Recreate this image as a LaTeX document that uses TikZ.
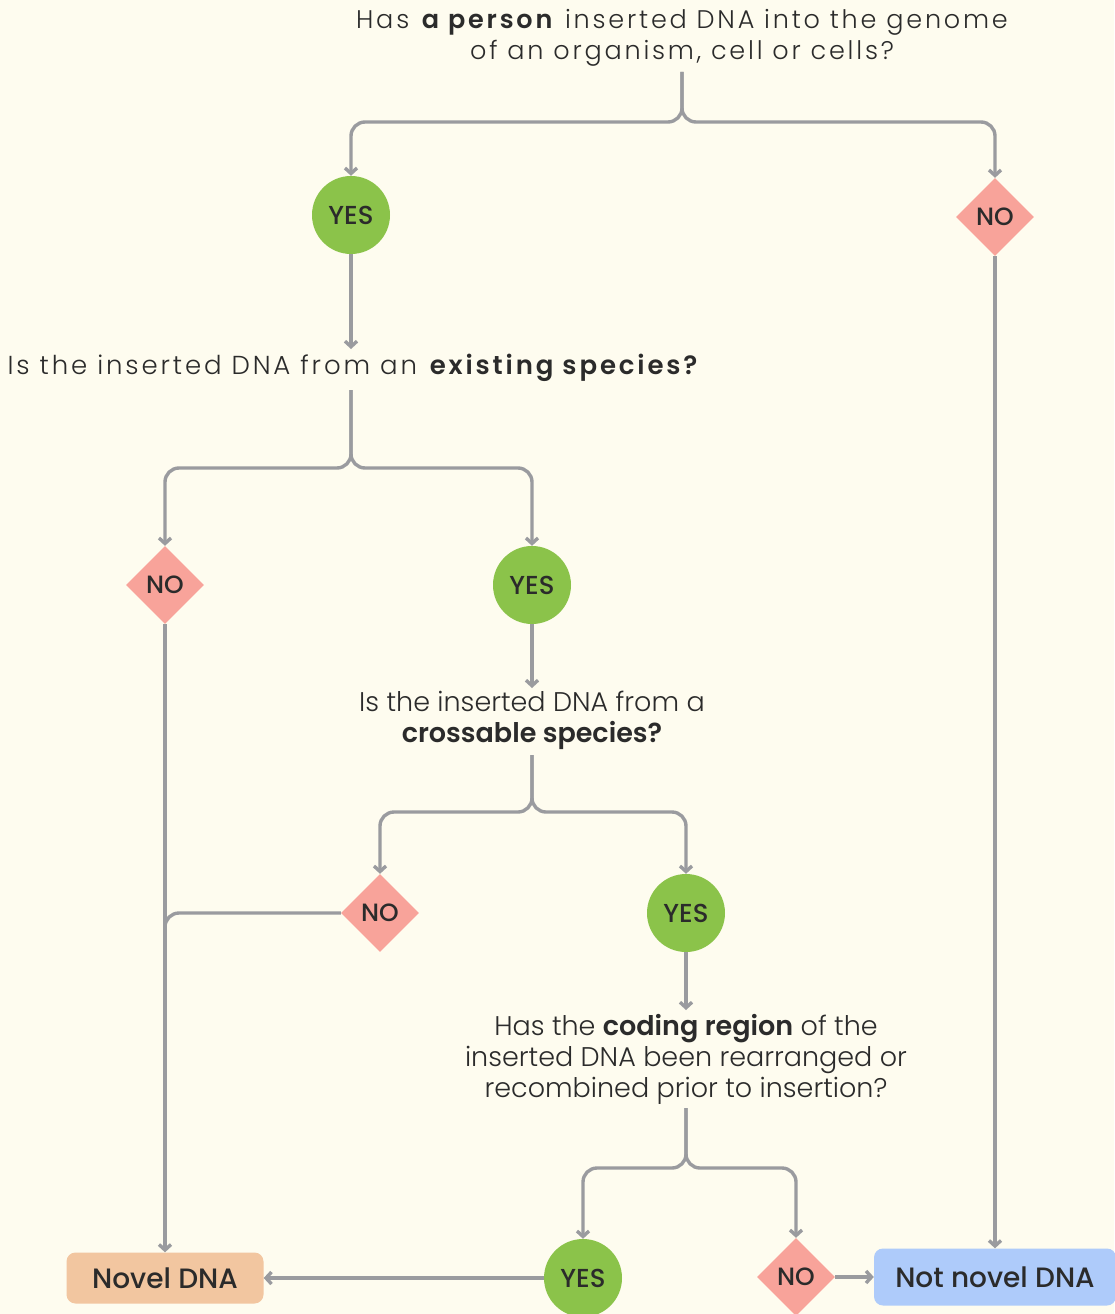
\documentclass[tikz,border=0pt]{standalone}
\usepackage{fontspec}
\setmainfont{Poppins}[UprightFont={Poppins Light},BoldFont={Poppins SemiBold}]
\newfontfamily\qfont{Poppins}[UprightFont={Poppins Light},BoldFont={Poppins SemiBold},LetterSpace=11]
\newfontfamily\lblfont{Poppins}[UprightFont={Poppins Medium}]
\usetikzlibrary{shapes.geometric,arrows.meta}
\definecolor{bgc}{HTML}{FEFCEF}
\definecolor{yesc}{HTML}{8BC34A}
\definecolor{noc}{HTML}{F8A39A}
\definecolor{novc}{HTML}{F2C6A0}
\definecolor{notc}{HTML}{AECBFA}
\definecolor{linec}{HTML}{9A9B9F}
\definecolor{txtc}{HTML}{2B2B2B}
\begin{document}
\begin{tikzpicture}[x=1pt,y=-1pt,
  every node/.style={text=txtc},
  question/.style={align=center,font=\fontsize{27}{31}\selectfont,inner sep=0pt},
  widequestion/.style={align=center,font=\qfont\fontsize{25.5}{31}\selectfont,inner sep=0pt},
  widequestionb/.style={align=center,font=\qfont\fontsize{26}{31}\selectfont,inner sep=0pt},
  yesnode/.style={circle,fill=yesc,minimum size=78pt,inner sep=0pt,font=\lblfont\fontsize{26}{26}\selectfont},
  nonode/.style={diamond,fill=noc,minimum width=78pt,minimum height=78pt,inner sep=0pt,font=\lblfont\fontsize{25}{25}\selectfont},
  endbox/.style={rounded corners=9pt,inner sep=0pt,font=\lblfont\fontsize{28}{28}\selectfont},
  conn/.style={draw=linec,line width=3.4pt,rounded corners=14pt},
  arr/.style={conn,-{Straight Barb[length=5.5pt,width=12pt]}}]
\fill[bgc] (0,0) rectangle (1114,1314);
\useasboundingbox (0,0) rectangle (1114,1314);

\node[widequestion] (q1) at (682,38) {Has \textbf{a person} inserted DNA into the genome\\of an organism, cell or cells?};
\node[yesnode] (yes1) at (351,215) {YES};
\node[nonode] (no1) at (995,217) {NO};
\node[widequestionb] (q2) at (354,368) {Is the inserted DNA from an \textbf{existing species?}};
\node[nonode] (no2) at (165,585) {NO};
\node[yesnode] (yes2) at (532,585) {YES};
\node[question] (q3) at (532,720) {Is the inserted DNA from a\\\textbf{crossable species?}};
\node[nonode] (no3) at (380,913) {NO};
\node[yesnode] (yes3) at (686,913) {YES};
\node[question] (q4) at (686,1059) {Has the \textbf{coding region} of the\\inserted DNA been rearranged or\\recombined prior to insertion?};
\node[yesnode] (yes4) at (583,1278) {YES};
\node[nonode] (no4) at (796,1277) {NO};
\node[endbox,fill=novc,minimum width=197pt,minimum height=51pt] (novel) at (165,1278) {Novel DNA};
\node[endbox,fill=notc,minimum width=242pt,minimum height=57pt] (notnovel) at (995,1277) {Not novel DNA};

% split points and text ends
\coordinate (s1) at (682,122);
\coordinate (s2) at (351,468);
\coordinate (s3) at (532,812);
\coordinate (s4) at (686,1168);
\coordinate (q1b) at (682,72);
\coordinate (q2b) at (351,390);
\coordinate (q3b) at (532,755);
\coordinate (q4b) at (686,1108);
\coordinate (q2t) at (354,349);
\coordinate (q3t) at (532,688);
\coordinate (q4t) at (686,1010);

\draw[arr] (q1b) -- (s1) -- (s1 -| yes1) -- (yes1.north);
\draw[arr] (q1b) -- (s1) -- (s1 -| no1) -- (no1.north);
\draw[arr] (yes1.south) -- (yes1.south |- q2t);
\draw[arr] (q2b) -- (s2) -- (s2 -| no2) -- (no2.north);
\draw[arr] (q2b) -- (s2) -- (s2 -| yes2) -- (yes2.north);
\draw[arr] (yes2.south) -- (q3t);
\draw[arr] (q3b) -- (s3) -- (s3 -| no3) -- (no3.north);
\draw[arr] (q3b) -- (s3) -- (s3 -| yes3) -- (yes3.north);
\draw[arr] (yes3.south) -- (q4t);
\draw[arr] (q4b) -- (s4) -- (s4 -| yes4) -- (yes4.north);
\draw[arr] (q4b) -- (s4) -- (s4 -| no4) -- (no4.north);
\draw[conn] (no3.west) -- (no3.west -| no2.south) -- ++(0,40);
\draw[arr] (no2.south) -- (novel.north);
\draw[arr] (no1.south) -- (notnovel.north);
\draw[arr] (yes4.west) -- (novel.east);
\draw[arr] (no4.east) -- (notnovel.west);
\end{tikzpicture}
\end{document}
